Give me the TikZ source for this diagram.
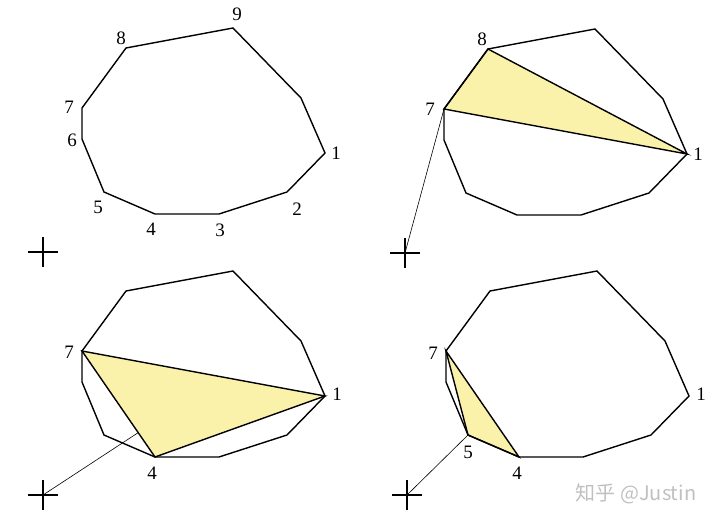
\documentclass[tikz,border=0pt]{standalone}
\usepackage{fontspec}
\setmainfont{Liberation Serif}
\newfontfamily\cjk{Noto Sans CJK SC}
\usetikzlibrary{calc}
\definecolor{hullfill}{RGB}{250,242,170}
\definecolor{markgray}{RGB}{192,192,192}
\begin{document}
\begin{tikzpicture}[x=1pt,y=-1pt,
  poly/.style={line width=1.4pt,line join=miter},
  tri/.style={fill=hullfill,line width=1.4pt,line join=miter},
  ray/.style={line width=0.6pt},
  crs/.style={line width=1.2pt},
  lab/.style={font=\fontsize{19}{21}\selectfont,inner sep=0pt}]
\useasboundingbox (0,0) rectangle (720,522);

% the same point set in all four panels
\foreach \p/\dx/\dy in {a/0/0, b/362/1, c/0/243, d/364/243}{
\begin{scope}[shift={(\dx,\dy)}]
\foreach \i/\x/\y in {1/325/153, 2/287/192, 3/219/214, 4/155/214, 5/104/192,
                      6/82/139, 7/82/108, 8/126/48, 9/233/28, 10/301/98}{
\coordinate (\p_\i) at (\x,\y);
}
\coordinate (\p_o) at (43,252);
\end{scope}
}

% thin lines from the origin
\draw[ray] (b_o) -- (b_7);
\coordinate (c_e) at ($(c_7)!0.77!(c_4)$);
\draw[ray] (c_o) -- (c_e);
\draw[ray] (d_o) -- (d_5);

% triangles
\draw[tri] (b_7) -- (b_8) -- (b_1) -- cycle;
\draw[tri] (c_7) -- (c_4) -- (c_1) -- cycle;
\draw[tri] (d_7) -- (d_5) -- (d_4) -- cycle;

% polygons and crosses
\foreach \p in {a,b,c,d}{
\draw[poly] (\p_1) \foreach \i in {2,...,10}{ -- (\p_\i)} -- cycle;
\draw[crs] ($(\p_o)+(-15,0)$) -- ($(\p_o)+(15,0)$)
           ($(\p_o)+(0,-15)$) -- ($(\p_o)+(0,15)$);
}

% labels
\foreach \i/\x/\y in {1/336/153, 2/297/209, 3/220/230, 4/151/229, 5/98/207,
                      6/72/140, 7/69/107, 8/121/38, 9/237/14}{
\node[lab] (la_\i) at (\x,\y) {\i};
}
\node[lab] (lb_8) at (482,39) {8};
\node[lab] (lb_7) at (430,109) {7};
\node[lab] (lb_1) at (698,154) {1};
\node[lab] (lc_7) at (69,352) {7};
\node[lab] (lc_1) at (337,394) {1};
\node[lab] (lc_4) at (152,473) {4};
\node[lab] (ld_7) at (433,353) {7};
\node[lab] (ld_5) at (468,452) {5};
\node[lab] (ld_4) at (517,473) {4};
\node[lab] (ld_1) at (701,394) {1};

\node[font=\cjk\fontsize{20}{22}\selectfont,text=markgray,inner sep=0pt] (mark) at (636,494) {知乎 @Justin};
\end{tikzpicture}
\end{document}
